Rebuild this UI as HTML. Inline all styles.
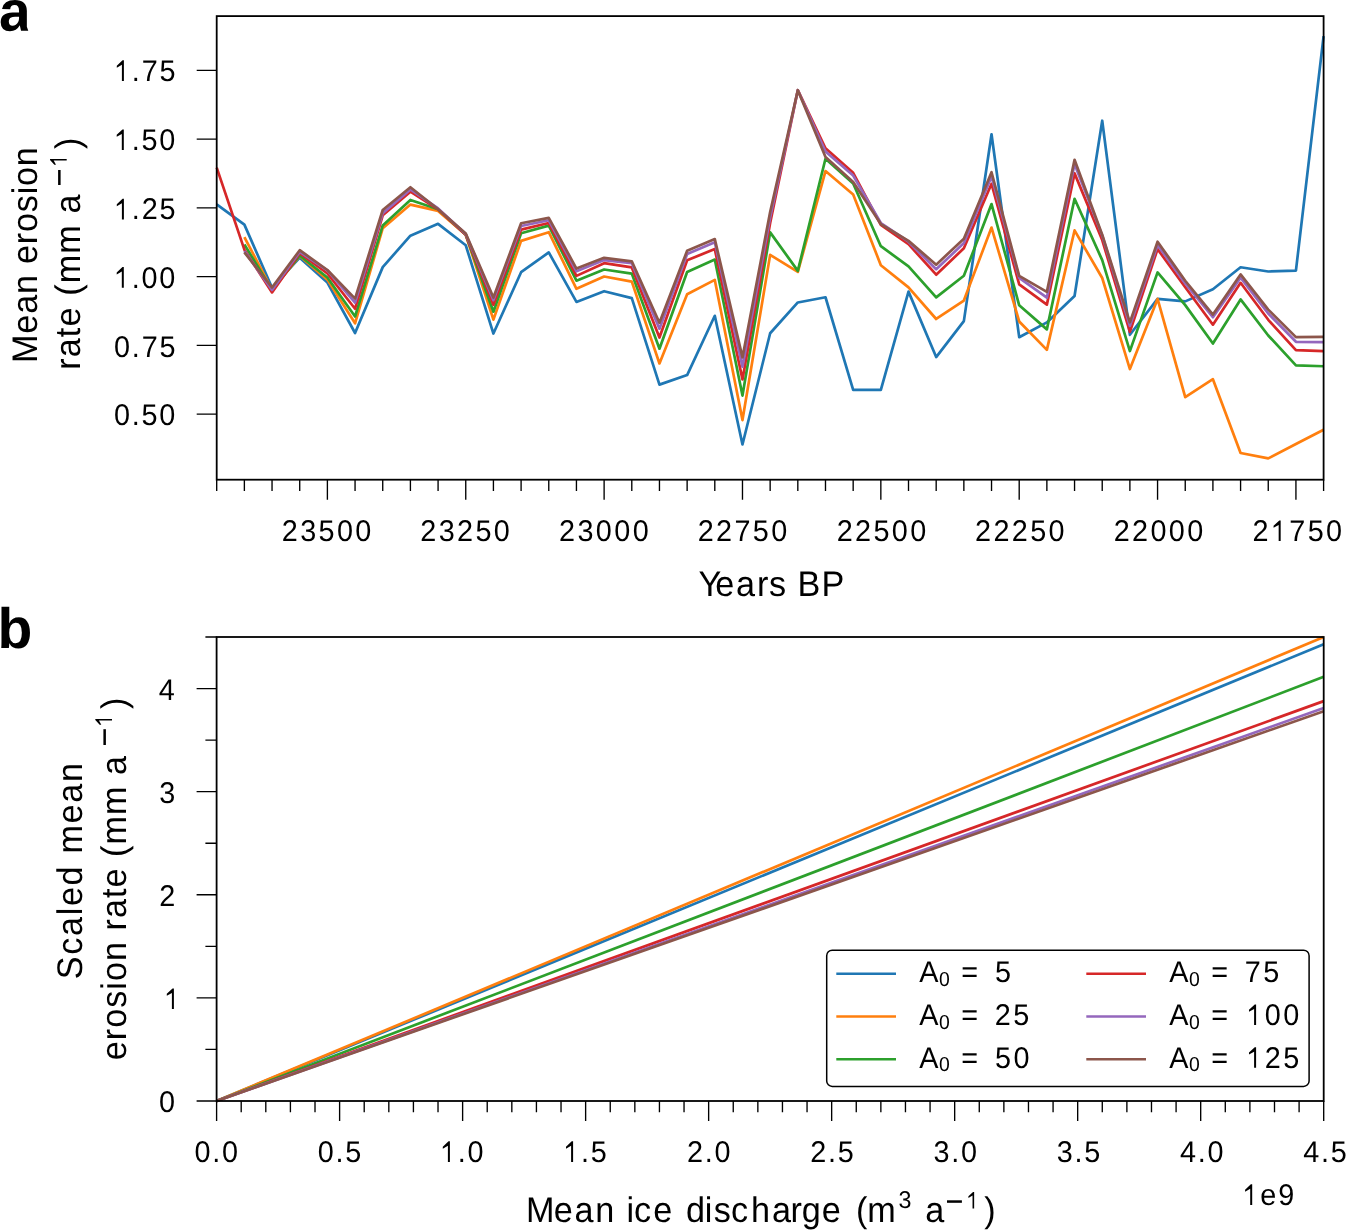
<!DOCTYPE html>
<html><head><meta charset="utf-8"><title>Erosion rate figure</title>
<style>html,body{margin:0;padding:0;background:#fff;}body{width:1346px;height:1230px;overflow:hidden;}svg{display:block;will-change:transform;font-family:"Liberation Sans", sans-serif;font-kerning:none;text-rendering:geometricPrecision;}text{fill:#000;white-space:pre;}</style></head><body>
<svg width="1346" height="1230" viewBox="0 0 1346 1230">
<rect x="0" y="0" width="1346" height="1230" fill="#fff"/>
<g fill="none" stroke-width="2.7" stroke-linejoin="round" stroke-linecap="butt">
<path d="M216.7 204.31 L244.37 224.65 L272.04 287.76 L299.72 257.65 L327.39 282.53 L355.06 333.01 L382.74 267.11 L410.41 235.65 L438.08 223.83 L465.75 245.27 L493.42 333.54 L521.1 272.22 L548.77 252.42 L576.44 301.89 L604.12 291.19 L631.79 298.07 L659.46 384.6 L687.13 375.06 L714.8 315.8 L742.48 444.48 L770.15 333.26 L797.82 302.47 L825.49 297.24 L853.17 389.9 L880.84 389.9 L908.51 291.61 L936.18 357.07 L963.86 321.16 L991.53 134.3 L1019.2 337.19 L1046.87 322.4 L1074.55 296 L1102.22 120.72 L1129.89 334.8 L1157.57 298.89 L1185.24 301.37 L1212.91 289.27 L1240.58 267.27 L1268.25 271.51 L1295.93 270.57 L1323.6 36.08" stroke="#1f77b4"/>
<path d="M244.37 237.03 L272.04 289.98 L299.72 256 L327.39 279.64 L355.06 323.31 L382.74 228.23 L410.41 204.58 L438.08 210.9 L465.75 234.83 L493.42 319.65 L521.1 240.88 L548.77 232.21 L576.44 288.83 L604.12 276.48 L631.79 281.57 L659.46 363.48 L687.13 294.22 L714.8 279.92 L742.48 420.07 L770.15 254.9 L797.82 271.95 L825.49 171.04 L853.17 194.41 L880.84 265.21 L908.51 287.34 L936.18 318.99 L963.86 300.54 L991.53 227.54 L1019.2 321.44 L1046.87 349.9 L1074.55 230.43 L1102.22 277.99 L1129.89 369.06 L1157.57 298.89 L1185.24 397.11 L1212.91 379.18 L1240.58 453.01 L1268.25 458.37 L1295.93 444.07 L1323.6 429.77" stroke="#ff7f0e"/>
<path d="M244.37 244.45 L272.04 289.98 L299.72 255.45 L327.39 277.44 L355.06 316.49 L382.74 225.48 L410.41 199.91 L438.08 209.25 L465.75 234.83 L493.42 311.68 L521.1 233.18 L548.77 225.61 L576.44 280.72 L604.12 269.47 L631.79 273.6 L659.46 348.69 L687.13 271.95 L714.8 259.57 L742.48 395.6 L770.15 232.35 L797.82 270.85 L825.49 158.77 L853.17 183.57 L880.84 246.21 L908.51 266.31 L936.18 297.38 L963.86 275.8 L991.53 204.03 L1019.2 305.3 L1046.87 329.36 L1074.55 198.81 L1102.22 260.12 L1129.89 351.08 L1157.57 272.41 L1185.24 305.11 L1212.91 343.57 L1240.58 299.44 L1268.25 335.46 L1295.93 365.43 L1323.6 366.26" stroke="#2ca02c"/>
<path d="M216.7 167.6 L244.37 249.67 L272.04 292.4 L299.72 253.25 L327.39 273.51 L355.06 308.71 L382.74 215.3 L410.41 191.66 L438.08 209.25 L465.75 234.83 L493.42 304.8 L521.1 229.6 L548.77 223 L576.44 275.88 L604.12 263.15 L631.79 267.41 L659.46 337.5 L687.13 260.2 L714.8 249.12 L742.48 379.4 L770.15 223 L797.82 90.2 L825.49 148.21 L853.17 172.85 L880.84 224.93 L908.51 244.17 L936.18 274.7 L963.86 248.3 L991.53 183.82 L1019.2 284.4 L1046.87 304.61 L1074.55 173.37 L1102.22 240.05 L1129.89 331.8 L1157.57 249.12 L1185.24 287.21 L1212.91 324.68 L1240.58 282.81 L1268.25 319.79 L1295.93 350.2 L1323.6 351.13" stroke="#d62728"/>
<path d="M244.37 251.05 L272.04 289.98 L299.72 251.87 L327.39 270.3 L355.06 302.6 L382.74 213.1 L410.41 189.46 L438.08 208.43 L465.75 234 L493.42 300.13 L521.1 226.03 L548.77 220.25 L576.44 271.29 L604.12 260.12 L631.79 263.15 L659.46 328.72 L687.13 253.91 L714.8 242.25 L742.48 366.78 L770.15 217.5 L797.82 90.2 L825.49 151.51 L853.17 175.57 L880.84 223 L908.51 241.7 L936.18 269.28 L963.86 243.07 L991.53 176.4 L1019.2 277.88 L1046.87 297.6 L1074.55 163.89 L1102.22 235.38 L1129.89 325.87 L1157.57 245 L1185.24 283.49 L1212.91 317.26 L1240.58 277.72 L1268.25 313.46 L1295.93 341.79 L1323.6 342.06" stroke="#9467bd"/>
<path d="M244.37 252.42 L272.04 287.48 L299.72 250.22 L327.39 269.99 L355.06 298.62 L382.74 210 L410.41 187.26 L438.08 209.25 L465.75 233.45 L493.42 297.52 L521.1 223.28 L548.77 217.89 L576.44 268.54 L604.12 257.79 L631.79 261.3 L659.46 322.7 L687.13 250.77 L714.8 239.09 L742.48 357.4 L770.15 212 L797.82 90.2 L825.49 157.04 L853.17 181.92 L880.84 224.1 L908.51 240.88 L936.18 264.66 L963.86 238.79 L991.53 172.27 L1019.2 275.91 L1046.87 291.8 L1074.55 159.76 L1102.22 234.69 L1129.89 322.32 L1157.57 241.7 L1185.24 280.74 L1212.91 314.59 L1240.58 274.42 L1268.25 309.62 L1295.93 337.11 L1323.6 336.84" stroke="#8c564b"/>
</g>
<path d="M196.7 414.1H216.7M196.7 345.36H216.7M196.7 276.62H216.7M196.7 207.88H216.7M196.7 139.14H216.7M196.7 70.4H216.7M216.7 479.7V490.9M244.37 479.7V490.9M272.04 479.7V490.9M299.72 479.7V490.9M327.39 479.7V499.7M355.06 479.7V490.9M382.73 479.7V490.9M410.41 479.7V490.9M438.08 479.7V490.9M465.75 479.7V499.7M493.42 479.7V490.9M521.1 479.7V490.9M548.77 479.7V490.9M576.44 479.7V490.9M604.12 479.7V499.7M631.79 479.7V490.9M659.46 479.7V490.9M687.13 479.7V490.9M714.8 479.7V490.9M742.48 479.7V499.7M770.15 479.7V490.9M797.82 479.7V490.9M825.49 479.7V490.9M853.17 479.7V490.9M880.84 479.7V499.7M908.51 479.7V490.9M936.18 479.7V490.9M963.86 479.7V490.9M991.53 479.7V490.9M1019.2 479.7V499.7M1046.87 479.7V490.9M1074.55 479.7V490.9M1102.22 479.7V490.9M1129.89 479.7V490.9M1157.56 479.7V499.7M1185.24 479.7V490.9M1212.91 479.7V490.9M1240.58 479.7V490.9M1268.25 479.7V490.9M1295.93 479.7V499.7M1323.6 479.7V490.9" stroke="#000" stroke-width="1.35" fill="none"/>
<rect x="216.7" y="16.1" width="1106.9" height="463.6" fill="none" stroke="#000" stroke-width="1.8"/>
<g transform="translate(0 425.4) scale(1 1.0405)"><text x="114.02" y="0" style="font-size:28.8px;letter-spacing:1.75px">0.50</text></g>
<g transform="translate(0 356.56) scale(1 1.0405)"><text x="114.11" y="0" style="font-size:28.8px;letter-spacing:1.75px">0.75</text></g>
<g transform="translate(0 287.67) scale(1 1.0405)"><text x="114.02" y="0" style="font-size:28.8px;letter-spacing:1.75px"> .00</text><path transform="translate(114.02 0) scale(0.01406 -0.01406)" d="M554 0L554 1101L191 905L191 1040L600 1409L696 1409L696 0Z"/></g>
<g transform="translate(0 219.48) scale(1 1.0405)"><text x="114.11" y="0" style="font-size:28.8px;letter-spacing:1.75px"> .25</text><path transform="translate(114.11 0) scale(0.01406 -0.01406)" d="M554 0L554 1101L191 905L191 1040L600 1409L696 1409L696 0Z"/></g>
<g transform="translate(0 150.04) scale(1 1.0405)"><text x="114.02" y="0" style="font-size:28.8px;letter-spacing:1.75px"> .50</text><path transform="translate(114.02 0) scale(0.01406 -0.01406)" d="M554 0L554 1101L191 905L191 1040L600 1409L696 1409L696 0Z"/></g>
<g transform="translate(0 80.9) scale(1 1.0405)"><text x="114.11" y="0" style="font-size:28.8px;letter-spacing:1.75px"> .75</text><path transform="translate(114.11 0) scale(0.01406 -0.01406)" d="M554 0L554 1101L191 905L191 1040L600 1409L696 1409L696 0Z"/></g>
<g transform="translate(0 541) scale(1 1.0405)"><text x="281.74" y="0" style="font-size:28.8px;letter-spacing:2.38px">23500</text></g>
<g transform="translate(0 541) scale(1 1.0405)"><text x="420.29" y="0" style="font-size:28.8px;letter-spacing:2.38px">23250</text></g>
<g transform="translate(0 541) scale(1 1.0405)"><text x="559.09" y="0" style="font-size:28.8px;letter-spacing:2.38px">23000</text></g>
<g transform="translate(0 541) scale(1 1.0405)"><text x="697.69" y="0" style="font-size:28.8px;letter-spacing:2.38px">22750</text></g>
<g transform="translate(0 541) scale(1 1.0405)"><text x="836.69" y="0" style="font-size:28.8px;letter-spacing:2.38px">22500</text></g>
<g transform="translate(0 541) scale(1 1.0405)"><text x="975.04" y="0" style="font-size:28.8px;letter-spacing:2.38px">22250</text></g>
<g transform="translate(0 541) scale(1 1.0405)"><text x="1113.64" y="0" style="font-size:28.8px;letter-spacing:2.38px">22000</text></g>
<g transform="translate(0 541) scale(1 1.0405)"><text x="1252.49" y="0" style="font-size:28.8px;letter-spacing:2.38px">2 750</text><path transform="translate(1270.88 0) scale(0.01406 -0.01406)" d="M554 0L554 1101L191 905L191 1040L600 1409L696 1409L696 0Z"/></g>
<g transform="translate(0 595.8) scale(1 1.0405)"><text x="698.45 715.25 736.05 756.93 768.95 786.05 797.59 821.59" y="0" style="font-size:34.2px">Years BP</text></g>
<g transform="rotate(-90) translate(0 37.2) scale(1 1.0405)"><text x="-362.91" y="0" style="font-size:34.2px;letter-spacing:0.78px">Mean erosion</text></g>
<g transform="rotate(-90) translate(0 80.1) scale(1 1.0405)"><text x="-369.87" y="0" style="font-size:34.2px;letter-spacing:1.13px">rate (mm a</text></g>
<rect x="58.1" y="170" width="2.5" height="15" fill="#000"/>
<g transform="rotate(-90) translate(0 66.7) scale(1 1.0405)"><text x="-166.87" y="0" style="font-size:23.3px;letter-spacing:0px"> </text><path transform="translate(-166.87 0) scale(0.01138 -0.01138)" d="M554 0L554 1101L191 905L191 1040L600 1409L696 1409L696 0Z"/></g>
<g transform="rotate(-90) translate(0 80.1) scale(1 1.0405)"><text x="-149.1" y="0" style="font-size:34.2px;letter-spacing:0px">)</text></g>
<path transform="translate(-1 30.7) scale(0.02783 -0.02783)" d="M393 -20Q236 -20 148 65.5Q60 151 60 306Q60 474 169.5 562Q279 650 487 652L720 656L720 711Q720 817 683 868.5Q646 920 562 920Q484 920 447.5 884.5Q411 849 402 767L109 781Q136 939 253.5 1020.5Q371 1102 574 1102Q779 1102 890 1001Q1001 900 1001 714L1001 320L1001 140L1052 0L792 0L757 150L749 193Q631 -20 393 -20ZM720 501L576 499Q478 495 437 477.5Q396 460 374.5 424Q353 388 353 328Q353 251 388.5 213.5Q424 176 483 176Q549 176 603.5 212Q658 248 689 311.5Q720 375 720 446L720 501Z"/>
<g fill="none" stroke-width="2.7" stroke-linecap="butt">
<path d="M216.6 1101L1323.7 644.22" stroke="#1f77b4"/>
<path d="M216.6 1101L1323.7 637" stroke="#ff7f0e"/>
<path d="M216.6 1101L1323.7 676.8" stroke="#2ca02c"/>
<path d="M216.6 1101L1323.7 701.14" stroke="#d62728"/>
<path d="M216.6 1101L1323.7 708.04" stroke="#9467bd"/>
<path d="M216.6 1101L1323.7 711.24" stroke="#8c564b"/>
</g>
<path d="M196.6 1101H216.6M205.4 1049.44H216.6M196.6 997.89H216.6M205.4 946.33H216.6M196.6 894.78H216.6M205.4 843.22H216.6M196.6 791.67H216.6M205.4 740.11H216.6M196.6 688.56H216.6M205.4 637H216.6M216.6 1101V1121M241.2 1101V1112.2M265.8 1101V1112.2M290.41 1101V1112.2M315.01 1101V1112.2M339.61 1101V1121M364.21 1101V1112.2M388.82 1101V1112.2M413.42 1101V1112.2M438.02 1101V1112.2M462.62 1101V1121M487.22 1101V1112.2M511.83 1101V1112.2M536.43 1101V1112.2M561.03 1101V1112.2M585.63 1101V1121M610.24 1101V1112.2M634.84 1101V1112.2M659.44 1101V1112.2M684.04 1101V1112.2M708.64 1101V1121M733.25 1101V1112.2M757.85 1101V1112.2M782.45 1101V1112.2M807.05 1101V1112.2M831.66 1101V1121M856.26 1101V1112.2M880.86 1101V1112.2M905.46 1101V1112.2M930.06 1101V1112.2M954.67 1101V1121M979.27 1101V1112.2M1003.87 1101V1112.2M1028.47 1101V1112.2M1053.08 1101V1112.2M1077.68 1101V1121M1102.28 1101V1112.2M1126.88 1101V1112.2M1151.48 1101V1112.2M1176.09 1101V1112.2M1200.69 1101V1121M1225.29 1101V1112.2M1249.89 1101V1112.2M1274.5 1101V1112.2M1299.1 1101V1112.2M1323.7 1101V1121" stroke="#000" stroke-width="1.35" fill="none"/>
<rect x="216.6" y="637" width="1107.1" height="464" fill="none" stroke="#000" stroke-width="1.8"/>
<g transform="translate(0 1112.1) scale(1 1.0405)"><text x="159.01" y="0" style="font-size:28.8px;letter-spacing:0px">0</text></g>
<g transform="translate(0 1008.99) scale(1 1.0405)"><text x="164.11" y="0" style="font-size:28.8px;letter-spacing:0px"> </text><path transform="translate(164.11 0) scale(0.01406 -0.01406)" d="M554 0L554 1101L191 905L191 1040L600 1409L696 1409L696 0Z"/></g>
<g transform="translate(0 905.88) scale(1 1.0405)"><text x="159.33" y="0" style="font-size:28.8px;letter-spacing:0px">2</text></g>
<g transform="translate(0 802.77) scale(1 1.0405)"><text x="159.15" y="0" style="font-size:28.8px;letter-spacing:0px">3</text></g>
<g transform="translate(0 699.66) scale(1 1.0405)"><text x="158.73" y="0" style="font-size:28.8px;letter-spacing:0px">4</text></g>
<g transform="translate(0 1161.9) scale(1 1.0405)"><text x="194.58" y="0" style="font-size:28.8px;letter-spacing:1.7px">0.0</text></g>
<g transform="translate(0 1161.9) scale(1 1.0405)"><text x="317.78" y="0" style="font-size:28.8px;letter-spacing:1.7px">0.5</text></g>
<g transform="translate(0 1161.9) scale(1 1.0405)"><text x="440.11" y="0" style="font-size:28.8px;letter-spacing:1.7px"> .0</text><path transform="translate(440.11 0) scale(0.01406 -0.01406)" d="M554 0L554 1101L191 905L191 1040L600 1409L696 1409L696 0Z"/></g>
<g transform="translate(0 1161.9) scale(1 1.0405)"><text x="563.31" y="0" style="font-size:28.8px;letter-spacing:1.7px"> .5</text><path transform="translate(563.31 0) scale(0.01406 -0.01406)" d="M554 0L554 1101L191 905L191 1040L600 1409L696 1409L696 0Z"/></g>
<g transform="translate(0 1161.9) scale(1 1.0405)"><text x="687.04" y="0" style="font-size:28.8px;letter-spacing:1.7px">2.0</text></g>
<g transform="translate(0 1161.9) scale(1 1.0405)"><text x="810.24" y="0" style="font-size:28.8px;letter-spacing:1.7px">2.5</text></g>
<g transform="translate(0 1161.9) scale(1 1.0405)"><text x="933.53" y="0" style="font-size:28.8px;letter-spacing:1.7px">3.0</text></g>
<g transform="translate(0 1161.9) scale(1 1.0405)"><text x="1056.73" y="0" style="font-size:28.8px;letter-spacing:1.7px">3.5</text></g>
<g transform="translate(0 1161.9) scale(1 1.0405)"><text x="1180.06" y="0" style="font-size:28.8px;letter-spacing:1.7px">4.0</text></g>
<g transform="translate(0 1161.9) scale(1 1.0405)"><text x="1303.26" y="0" style="font-size:28.8px;letter-spacing:1.7px">4.5</text></g>
<g transform="translate(0 1204.9) scale(1 1.0405)"><text x="1242.41" y="0" style="font-size:28.8px;letter-spacing:1.95px"> e9</text><path transform="translate(1242.41 0) scale(0.01406 -0.01406)" d="M554 0L554 1101L191 905L191 1040L600 1409L696 1409L696 0Z"/></g>
<rect x="826.7" y="950.2" width="482.4" height="136.2" rx="5.5" ry="5.5" fill="#fff" stroke="#000" stroke-width="1.5"/>
<path d="M836.3 973.8H896" stroke="#1f77b4" stroke-width="2.6" fill="none"/>
<g transform="translate(0 982.25) scale(1 1.0405)"><text x="919.34" y="0" style="font-size:28.8px;letter-spacing:0px">A</text></g>
<g transform="translate(0 985.85) scale(1 1.0405)"><text x="939.04" y="0" style="font-size:19.4px;letter-spacing:0px">0</text></g>
<g transform="translate(0 982.25) scale(1 1.0405)"><text x="961.29" y="0" style="font-size:28.8px;letter-spacing:0px">=</text></g>
<g transform="translate(0 982.25) scale(1 1.0405)"><text x="995.05" y="0" style="font-size:28.8px;letter-spacing:2.4px">5</text></g>
<path d="M836.3 1016.55H896" stroke="#ff7f0e" stroke-width="2.6" fill="none"/>
<g transform="translate(0 1025) scale(1 1.0405)"><text x="919.34" y="0" style="font-size:28.8px;letter-spacing:0px">A</text></g>
<g transform="translate(0 1028.6) scale(1 1.0405)"><text x="939.04" y="0" style="font-size:19.4px;letter-spacing:0px">0</text></g>
<g transform="translate(0 1025) scale(1 1.0405)"><text x="961.29" y="0" style="font-size:28.8px;letter-spacing:0px">=</text></g>
<g transform="translate(0 1025) scale(1 1.0405)"><text x="994.75" y="0" style="font-size:28.8px;letter-spacing:2.4px">25</text></g>
<path d="M836.3 1059.3H896" stroke="#2ca02c" stroke-width="2.6" fill="none"/>
<g transform="translate(0 1067.75) scale(1 1.0405)"><text x="919.34" y="0" style="font-size:28.8px;letter-spacing:0px">A</text></g>
<g transform="translate(0 1071.35) scale(1 1.0405)"><text x="939.04" y="0" style="font-size:19.4px;letter-spacing:0px">0</text></g>
<g transform="translate(0 1067.75) scale(1 1.0405)"><text x="961.29" y="0" style="font-size:28.8px;letter-spacing:0px">=</text></g>
<g transform="translate(0 1067.75) scale(1 1.0405)"><text x="995.05" y="0" style="font-size:28.8px;letter-spacing:2.4px">50</text></g>
<path d="M1086.3 973.8H1146" stroke="#d62728" stroke-width="2.6" fill="none"/>
<g transform="translate(0 982.25) scale(1 1.0405)"><text x="1169.34" y="0" style="font-size:28.8px;letter-spacing:0px">A</text></g>
<g transform="translate(0 985.85) scale(1 1.0405)"><text x="1189.04" y="0" style="font-size:19.4px;letter-spacing:0px">0</text></g>
<g transform="translate(0 982.25) scale(1 1.0405)"><text x="1211.29" y="0" style="font-size:28.8px;letter-spacing:0px">=</text></g>
<g transform="translate(0 982.25) scale(1 1.0405)"><text x="1244.72" y="0" style="font-size:28.8px;letter-spacing:2.4px">75</text></g>
<path d="M1086.3 1016.55H1146" stroke="#9467bd" stroke-width="2.6" fill="none"/>
<g transform="translate(0 1025) scale(1 1.0405)"><text x="1169.34" y="0" style="font-size:28.8px;letter-spacing:0px">A</text></g>
<g transform="translate(0 1028.6) scale(1 1.0405)"><text x="1189.04" y="0" style="font-size:19.4px;letter-spacing:0px">0</text></g>
<g transform="translate(0 1025) scale(1 1.0405)"><text x="1211.29" y="0" style="font-size:28.8px;letter-spacing:0px">=</text></g>
<g transform="translate(0 1025) scale(1 1.0405)"><text x="1246.31" y="0" style="font-size:28.8px;letter-spacing:2.4px"> 00</text><path transform="translate(1246.31 0) scale(0.01406 -0.01406)" d="M554 0L554 1101L191 905L191 1040L600 1409L696 1409L696 0Z"/></g>
<path d="M1086.3 1059.3H1146" stroke="#8c564b" stroke-width="2.6" fill="none"/>
<g transform="translate(0 1067.75) scale(1 1.0405)"><text x="1169.34" y="0" style="font-size:28.8px;letter-spacing:0px">A</text></g>
<g transform="translate(0 1071.35) scale(1 1.0405)"><text x="1189.04" y="0" style="font-size:19.4px;letter-spacing:0px">0</text></g>
<g transform="translate(0 1067.75) scale(1 1.0405)"><text x="1211.29" y="0" style="font-size:28.8px;letter-spacing:0px">=</text></g>
<g transform="translate(0 1067.75) scale(1 1.0405)"><text x="1246.31" y="0" style="font-size:28.8px;letter-spacing:2.4px"> 25</text><path transform="translate(1246.31 0) scale(0.01406 -0.01406)" d="M554 0L554 1101L191 905L191 1040L600 1409L696 1409L696 0Z"/></g>
<g transform="translate(0 1221.9) scale(1 1.0405)"><text x="525.89 553.65 574.45 595.23 614.25 626.41 633.95 653.25 672.27 685.96 704.71 713.75 731.05 750.93 771.95 790.43 801.66 821.65 840.67 855.88 867.13" y="0" style="font-size:34.2px">Mean ice discharge (m</text></g>
<g transform="translate(0 1208.4) scale(1 1.0405)"><text x="898.51" y="0" style="font-size:23.3px;letter-spacing:0px">3</text></g>
<g transform="translate(0 1221.9) scale(1 1.0405)"><text x="925.35" y="0" style="font-size:34.2px;letter-spacing:0px">a</text></g>
<rect x="947" y="1200.3" width="14.9" height="2.5" fill="#000"/>
<g transform="translate(0 1208.6) scale(1 1.0405)"><text x="966.23" y="0" style="font-size:23.3px;letter-spacing:0px"> </text><path transform="translate(966.23 0) scale(0.01138 -0.01138)" d="M554 0L554 1101L191 905L191 1040L600 1409L696 1409L696 0Z"/></g>
<g transform="translate(0 1221.9) scale(1 1.0405)"><text x="984.3" y="0" style="font-size:34.2px;letter-spacing:0px">)</text></g>
<g transform="rotate(-90) translate(0 82.3) scale(1 1.0405)"><text x="-979.25" y="0" style="font-size:34.2px;letter-spacing:1.66px">Scaled mean</text></g>
<g transform="rotate(-90) translate(0 125.8) scale(1 1.0405)"><text x="-1060.25" y="0" style="font-size:34.2px;letter-spacing:1.02px">erosion rate (mm a</text></g>
<rect x="103.4" y="729.2" width="2.5" height="15.8" fill="#000"/>
<g transform="rotate(-90) translate(0 112) scale(1 1.0405)"><text x="-726.87" y="0" style="font-size:23.3px;letter-spacing:0px"> </text><path transform="translate(-726.87 0) scale(0.01138 -0.01138)" d="M554 0L554 1101L191 905L191 1040L600 1409L696 1409L696 0Z"/></g>
<g transform="rotate(-90) translate(0 125.8) scale(1 1.0405)"><text x="-709.1" y="0" style="font-size:34.2px;letter-spacing:0px">)</text></g>
<text x="-2.5" y="647.8" style="font-size:57px;font-weight:bold">b</text>
</svg></body></html>
